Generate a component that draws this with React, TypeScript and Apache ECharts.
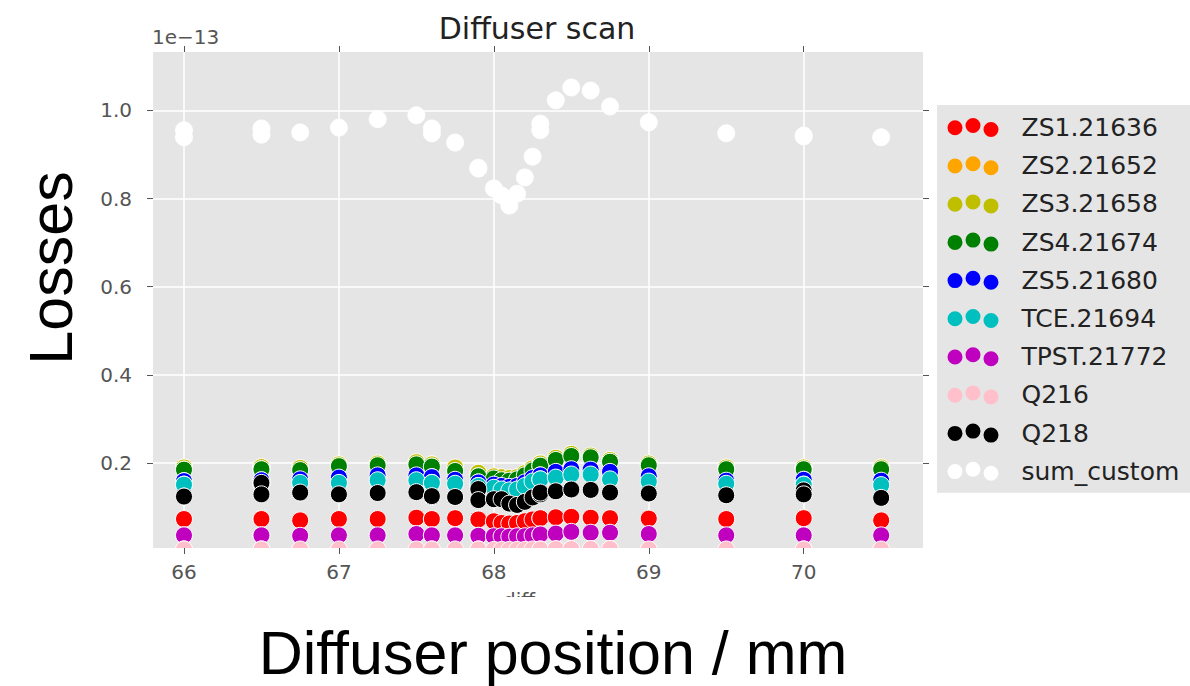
import React, { useEffect, useRef } from "react";
import * as echarts from "echarts";

// Diffuser positions (mm) for each measurement
const positions = [66, 66, 66.5, 66.5, 66.75, 67, 67.25, 67.5, 67.6, 67.6, 67.75, 67.9, 67.9, 68.0, 68.05, 68.1, 68.15, 68.2, 68.25, 68.3, 68.3, 68.4, 68.5, 68.625, 68.75, 69, 69.5, 70, 70, 70.5];

// Losses, in units of 1e-13
const zs1_21636 = [0.073, 0.073, 0.073, 0.073, 0.070, 0.073, 0.073, 0.076, 0.073, 0.073, 0.075, 0.072, 0.072, 0.068, 0.064, 0.063, 0.064, 0.068, 0.072, 0.075, 0.075, 0.077, 0.078, 0.076, 0.075, 0.074, 0.073, 0.076, 0.075, 0.070];
const zs2_21652 = [0.188, 0.188, 0.189, 0.189, 0.187, 0.195, 0.197, 0.200, 0.195, 0.195, 0.188, 0.176, 0.176, 0.168, 0.166, 0.164, 0.166, 0.175, 0.186, 0.197, 0.197, 0.210, 0.219, 0.215, 0.205, 0.197, 0.188, 0.188, 0.188, 0.188];
const zs3_21658 = [0.190, 0.190, 0.191, 0.191, 0.189, 0.197, 0.199, 0.202, 0.197, 0.197, 0.190, 0.178, 0.178, 0.170, 0.168, 0.166, 0.168, 0.177, 0.188, 0.199, 0.199, 0.212, 0.221, 0.217, 0.207, 0.199, 0.190, 0.190, 0.190, 0.190];
const zs4_21674 = [0.185, 0.185, 0.186, 0.186, 0.184, 0.193, 0.195, 0.197, 0.192, 0.192, 0.182, 0.170, 0.170, 0.165, 0.161, 0.160, 0.163, 0.172, 0.183, 0.194, 0.194, 0.207, 0.216, 0.213, 0.203, 0.195, 0.186, 0.186, 0.186, 0.186];
const zs5_21680 = [0.159, 0.159, 0.161, 0.161, 0.163, 0.167, 0.172, 0.172, 0.168, 0.168, 0.162, 0.156, 0.156, 0.151, 0.148, 0.146, 0.148, 0.156, 0.166, 0.172, 0.172, 0.180, 0.186, 0.185, 0.180, 0.170, 0.160, 0.162, 0.162, 0.160];
const tce_21694 = [0.151, 0.151, 0.153, 0.153, 0.155, 0.155, 0.161, 0.161, 0.155, 0.155, 0.153, 0.148, 0.148, 0.144, 0.140, 0.138, 0.140, 0.148, 0.158, 0.163, 0.163, 0.167, 0.174, 0.174, 0.163, 0.158, 0.153, 0.151, 0.151, 0.150];
const tpst_21772 = [0.036, 0.036, 0.036, 0.036, 0.035, 0.036, 0.036, 0.039, 0.036, 0.036, 0.036, 0.035, 0.035, 0.034, 0.034, 0.033, 0.034, 0.034, 0.036, 0.038, 0.038, 0.040, 0.044, 0.042, 0.042, 0.039, 0.036, 0.036, 0.036, 0.036];
const q216 = [0.004, 0.004, 0.004, 0.004, 0.004, 0.004, 0.004, 0.004, 0.004, 0.004, 0.004, 0.004, 0.004, 0.003, 0.003, 0.003, 0.003, 0.003, 0.004, 0.004, 0.004, 0.005, 0.005, 0.005, 0.005, 0.004, 0.004, 0.004, 0.004, 0.004];
const q218 = [0.124, 0.124, 0.155, 0.129, 0.133, 0.129, 0.132, 0.134, 0.123, 0.125, 0.123, 0.141, 0.116, 0.118, 0.118, 0.108, 0.105, 0.112, 0.122, 0.129, 0.133, 0.136, 0.140, 0.139, 0.133, 0.131, 0.127, 0.138, 0.129, 0.121];
const sum_custom = [0.955, 0.939, 0.959, 0.945, 0.950, 0.961, 0.980, 0.989, 0.959, 0.948, 0.927, 0.870, 0.868, 0.823, 0.807, 0.784, 0.811, 0.848, 0.895, 0.970, 0.955, 1.023, 1.052, 1.045, 1.009, 0.973, 0.948, 0.943, 0.941, 0.939];

const seriesNames = ["ZS1.21636", "ZS2.21652", "ZS3.21658", "ZS4.21674", "ZS5.21680", "TCE.21694", "TPST.21772", "Q216", "Q218", "sum_custom"];
const seriesValues = [zs1_21636, zs2_21652, zs3_21658, zs4_21674, zs5_21680, tce_21694, tpst_21772, q216, q218, sum_custom];
const seriesColors = ["#ff0000", "#ffa500", "#bfbf00", "#008000", "#0000ff", "#00bfbf", "#bf00bf", "#ffc0cb", "#000000", "#ffffff"];

const xTicks = [66, 67, 68, 69, 70];
const yTicks = [0.2, 0.4, 0.6, 0.8, 1.0];

const X_MIN = 65.8;
const X_MAX = 70.77;
const Y_MIN = 0.0073;
const Y_MAX = 1.1325;

const ICON =
  "path://M0,9.8A7.5,7.5,0,1,0,15,9.8A7.5,7.5,0,1,0,0,9.8Z" +
  "M18,7.5A7.5,7.5,0,1,0,33,7.5A7.5,7.5,0,1,0,18,7.5Z" +
  "M36,11.5A7.5,7.5,0,1,0,51,11.5A7.5,7.5,0,1,0,36,11.5Z";

const FONT = "DejaVu Sans";

export default function App() {
  const ref = useRef<HTMLDivElement>(null);

  useEffect(() => {
    if (!ref.current) return;
    const chart = echarts.init(ref.current, undefined, { renderer: "svg" });
    const tickStyle = { color: "#555555", width: 1 };
    const option: any = {
      animation: false,
      backgroundColor: "#ffffff",
      textStyle: { fontFamily: FONT },
      grid: {
        left: 153,
        right: 267,
        top: 52,
        bottom: 138,
        show: true,
        backgroundColor: "#e5e5e5",
        borderWidth: 0,
        containLabel: false,
        outerBoundsMode: "none",
      },
      xAxis: [
        {
          type: "value",
          position: "bottom",
          min: X_MIN,
          max: X_MAX,
          z: 10,
          axisLine: { show: false },
          axisTick: { show: true, inside: false, length: 6, lineStyle: tickStyle, customValues: xTicks },
          axisLabel: {
            show: true,
            customValues: xTicks,
            color: "#555555",
            fontSize: 20,
            fontFamily: FONT,
            margin: 14,
            formatter: (v: number) => String(v),
          },
          splitLine: { show: false },
        },
        {
          type: "value",
          position: "top",
          min: X_MIN,
          max: X_MAX,
          axisLine: { show: false },
          axisTick: { show: true, inside: false, length: 6, lineStyle: tickStyle, customValues: xTicks },
          axisLabel: { show: false, customValues: xTicks },
          splitLine: { show: true, lineStyle: { color: "#ffffff", width: 1.5 } },
        },
      ],
      yAxis: [
        {
          type: "value",
          position: "left",
          min: Y_MIN,
          max: Y_MAX,
          axisLine: { show: false },
          axisTick: { show: true, inside: false, length: 6, lineStyle: tickStyle, customValues: yTicks },
          axisLabel: {
            show: true,
            customValues: yTicks,
            color: "#555555",
            fontSize: 20,
            fontFamily: FONT,
            margin: 21,
            formatter: (v: number) => v.toFixed(1),
          },
          splitLine: { show: true, lineStyle: { color: "#ffffff", width: 1.5 } },
        },
        {
          type: "value",
          position: "right",
          min: Y_MIN,
          max: Y_MAX,
          axisLine: { show: false },
          axisTick: { show: true, inside: false, length: 6, lineStyle: tickStyle, customValues: yTicks },
          axisLabel: { show: false, customValues: yTicks },
          splitLine: { show: false },
        },
      ],
      legend: {
        orient: "vertical",
        left: 937,
        top: 105,
        padding: [10, 12, 9, 10.5],
        itemGap: 13.2,
        itemWidth: 51,
        itemHeight: 19,
        icon: ICON,
        backgroundColor: "#e5e5e5",
        borderWidth: 0,
        selectedMode: false,
        itemStyle: { borderWidth: 0 },
        textStyle: {
          fontSize: 25,
          fontFamily: FONT,
          color: "#222222",
          lineHeight: 24,
          padding: [0, 0, 0, 18],
        },
        data: seriesNames,
      },
      series: seriesNames.map((name, i) => ({
        type: "scatter",
        name,
        xAxisIndex: 0,
        yAxisIndex: 0,
        symbol: "circle",
        symbolSize: 17,
        clip: false,
        silent: true,
        emphasis: { disabled: true },
        itemStyle: { color: seriesColors[i], borderColor: "#ffffff", borderWidth: 1, opacity: 1 },
        data: positions.map((x, j) => [x, seriesValues[i][j]]),
      })),
      graphic: [
        {
          type: "rect",
          z: 5,
          shape: { x: 140, y: 548, width: 797, height: 14 },
          style: { fill: "#ffffff" },
        },
        {
          type: "text",
          z: 1,
          x: 519,
          y: 590,
          style: { text: "diff", fontSize: 20, fontFamily: FONT, fill: "#555555", textAlign: "center", textVerticalAlign: "top" },
        },
        {
          type: "rect",
          z: 6,
          shape: { x: 420, y: 597, width: 240, height: 26 },
          style: { fill: "#ffffff" },
        },
        {
          type: "text",
          z: 7,
          x: 537,
          y: 28,
          style: { text: "Diffuser scan", fontSize: 30, fontFamily: FONT, fill: "#222222", textAlign: "center", textVerticalAlign: "middle" },
        },
        {
          type: "text",
          z: 7,
          x: 152,
          y: 37,
          style: { text: "1e\u221213", fontSize: 20, fontFamily: FONT, fill: "#555555", textAlign: "left", textVerticalAlign: "middle" },
        },
        {
          type: "text",
          z: 7,
          x: 553,
          y: 653,
          style: { text: "Diffuser position / mm", fontSize: 61, fontFamily: "Liberation Sans", fill: "#000000", textAlign: "center", textVerticalAlign: "middle" },
        },
        {
          type: "text",
          z: 7,
          x: 51,
          y: 268,
          rotation: Math.PI / 2,
          style: { text: "Losses", fontSize: 61, fontFamily: "Liberation Sans", fill: "#000000", textAlign: "center", textVerticalAlign: "middle" },
        },
      ],
    };
    chart.setOption(option);
    return () => {
      chart.dispose();
    };
  }, []);

  return (
    <div
      ref={ref}
      style={{ position: "absolute", left: 0, top: 0, width: 1190, height: 686 }}
    />
  );
}
